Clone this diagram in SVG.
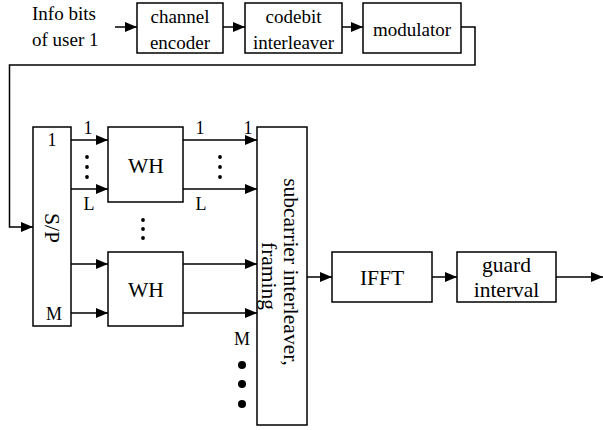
<svg xmlns="http://www.w3.org/2000/svg" width="603" height="430" viewBox="0 0 603 430">
  <style>
    .box { fill: #fff; stroke: #000; stroke-width: 1.5; }
    .ln { fill: none; stroke: #000; stroke-width: 1.5; marker-end: url(#arr); }
    .pl { fill: none; stroke: #000; stroke-width: 1.5; }
    text { font-family: "Liberation Serif", "Times New Roman", serif; fill: #000; }
    .t19 { font-size: 19px; }
    .t21 { font-size: 21.5px; }
    .lab { font-size: 18px; }
    .c { text-anchor: middle; }
  </style>
  <defs>
    <marker id="arr" markerWidth="12" markerHeight="10" refX="12" refY="5" orient="auto" markerUnits="userSpaceOnUse">
      <path d="M0,0 L12,5 L0,10 Z" fill="#000"/>
    </marker>
  </defs>

  <!-- input label -->
  <g id="input">
    <text class="t19" x="32" y="20">Info bits</text>
    <text class="t19" x="32" y="46">of user 1</text>
  </g>

  <g id="channel-encoder">
    <rect class="box" x="137" y="3" width="86" height="50"/>
    <text class="t19 c" x="180" y="23">channel</text>
    <text class="t19 c" x="180" y="49">encoder</text>
  </g>

  <g id="codebit-interleaver">
    <rect class="box" x="245" y="3" width="97" height="50"/>
    <text class="t19 c" x="293.5" y="23">codebit</text>
    <text class="t19 c" x="293.5" y="49">interleaver</text>
  </g>

  <g id="modulator">
    <rect class="box" x="363" y="3" width="98" height="50"/>
    <text class="t19 c" x="412" y="36">modulator</text>
  </g>

  <g id="sp">
    <rect class="box" x="33" y="127" width="38" height="199"/>
    <text class="lab c" x="52" y="146">1</text>
    <text class="lab c" x="54" y="320">M</text>
    <text class="t21 c" transform="translate(45,228) rotate(90)">S/P</text>
  </g>

  <g id="wh1">
    <rect class="box" x="108" y="127" width="75" height="75"/>
    <text class="t21 c" x="146" y="173">WH</text>
  </g>

  <g id="wh2">
    <rect class="box" x="108" y="252" width="75" height="74"/>
    <text class="t21 c" x="146" y="297">WH</text>
  </g>

  <g id="subcarrier-interleaver">
    <rect class="box" x="257" y="127" width="50" height="298"/>
    <text class="t21 c" transform="translate(284,272) rotate(90)">subcarrier interleaver,</text>
    <text class="t21 c" transform="translate(262,276) rotate(90)">framing</text>
  </g>

  <g id="ifft">
    <rect class="box" x="332" y="252" width="100" height="50"/>
    <text class="t21 c" x="382" y="285">IFFT</text>
  </g>

  <g id="guard-interval">
    <rect class="box" x="457" y="252" width="99" height="50"/>
    <text class="t21 c" x="506.5" y="272">guard</text>
    <text class="t21 c" x="506.5" y="297">interval</text>
  </g>

  <g id="connectors">
    <line class="ln" x1="115" y1="27" x2="137" y2="27"/>
    <line class="ln" x1="223" y1="27" x2="245" y2="27"/>
    <line class="ln" x1="342" y1="27" x2="363" y2="27"/>
    <polyline class="ln" points="461,27 475,27 475,65 9.5,65 9.5,227 33,227"/>

    <line class="ln" x1="71" y1="140" x2="108" y2="140"/>
    <line class="ln" x1="71" y1="189" x2="108" y2="189"/>
    <line class="ln" x1="71" y1="264" x2="108" y2="264"/>
    <line class="ln" x1="71" y1="313" x2="108" y2="313"/>

    <line class="ln" x1="183" y1="140" x2="257" y2="140"/>
    <line class="ln" x1="183" y1="189" x2="257" y2="189"/>
    <line class="ln" x1="183" y1="264" x2="257" y2="264"/>
    <line class="ln" x1="183" y1="313" x2="257" y2="313"/>

    <line class="ln" x1="307" y1="277" x2="332" y2="277"/>
    <line class="ln" x1="432" y1="277" x2="457" y2="277"/>
    <line class="ln" x1="556" y1="277" x2="603" y2="277"/>
  </g>

  <g id="labels">
    <text class="lab c" x="88" y="134">1</text>
    <text class="lab c" x="200" y="134">1</text>
    <text class="lab c" x="248" y="134">1</text>
    <text class="lab c" x="89" y="210">L</text>
    <text class="lab c" x="201" y="210">L</text>
    <text class="lab c" x="242" y="345">M</text>
  </g>

  <g id="dots" fill="#000">
    <circle cx="87" cy="157" r="1.9"/>
    <circle cx="87" cy="167" r="1.9"/>
    <circle cx="87" cy="177" r="1.9"/>
    <circle cx="220" cy="157" r="1.9"/>
    <circle cx="220" cy="167" r="1.9"/>
    <circle cx="220" cy="177" r="1.9"/>
    <circle cx="143" cy="220" r="1.9"/>
    <circle cx="143" cy="229" r="1.9"/>
    <circle cx="143" cy="238" r="1.9"/>
    <circle cx="242" cy="365" r="4"/>
    <circle cx="242" cy="384" r="4"/>
    <circle cx="242" cy="404" r="4"/>
  </g>
</svg>
